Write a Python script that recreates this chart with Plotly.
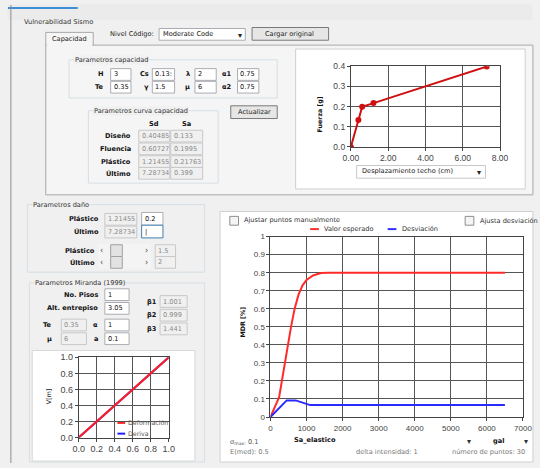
import plotly.graph_objects as go

W, H = 540, 468

# capacity curve (Sd, Sa)
cap_sd = [0, 0.40485, 0.60727, 1.21455, 7.28734]
cap_sa = [0, 0.133, 0.1995, 0.21763, 0.399]

# small chart (Miranda)
mir_x = [0, 1]
deform_y = [0, 1]
deriva_y = [0, 1]

# main chart: expected value and deviation vs Sa_elastico
val_x = [0, 240, 570, 670, 780, 890, 1000, 1180, 1400, 1600, 6500]
val_y = [0, 0.11, 0.50, 0.60, 0.68, 0.73, 0.76, 0.785, 0.798, 0.80, 0.80]
dev_x = [0, 450, 700, 850, 1000, 1100, 6500]
dev_y = [0, 0.092, 0.092, 0.083, 0.072, 0.066, 0.066]

# form values
row1_labels = ["H", "Cs", "λ", "α1"]
row1_values = ["3", "0.13:", "2", "0.75"]
row2_labels = ["Te", "γ", "μ", "α2"]
row2_values = ["0.35", "1.5", "6", "0.75"]
curve_labels = ["Diseño", "Fluencia", "Plástico", "Último"]
curve_sd = ["0.40485", "0.60727", "1.21455", "7.28734"]
curve_sa = ["0.133", "0.1995", "0.21763", "0.399"]

FONT = "DejaVu Sans"
TICKFONT = "Liberation Sans"
FS = 6.6
shapes = []
annots = []


def px(x):
    return x / W


def py(y):
    return 1 - y / H


def rect(x0, y0, x1, y1, fill="rgba(0,0,0,0)", line="#b0b0b0", lw=1):
    shapes.append(dict(type="rect", xref="paper", yref="paper", layer="below",
                       x0=px(x0), x1=px(x1), y0=py(y1), y1=py(y0),
                       fillcolor=fill, line=dict(color=line, width=lw)))


def hline(x0, x1, y, color, lw=1):
    shapes.append(dict(type="line", xref="paper", yref="paper", layer="below",
                       x0=px(x0), x1=px(x1), y0=py(y), y1=py(y),
                       line=dict(color=color, width=lw)))


def txt(x, y, s, size=FS, color="#222", anchor="left", bold=False, bg=None, angle=0):
    if bold:
        s = "<b>" + s + "</b>"
    a = dict(x=px(x), y=py(y), xref="paper", yref="paper", text=s, showarrow=False,
             xanchor=anchor, yanchor="middle", textangle=angle, borderpad=0,
             font=dict(family=FONT, size=size, color=color))
    if bg:
        a["bgcolor"] = bg
    annots.append(a)


def tbox(x0, y0, x1, y1, s, enabled=True, border="#abadb3"):
    if enabled:
        rect(x0, y0, x1, y1, fill="white", line=border)
        txt(x0 + 2, (y0 + y1) / 2, s, color="#111")
    else:
        rect(x0, y0, x1, y1, fill="#f0f0f0", line="#c8c8c8")
        txt(x0 + 2, (y0 + y1) / 2, s, color="#8a8a8a")


def group(x0, y0, x1, y1, label):
    rect(x0, y0, x1, y1, line="#d5dfe5")
    txt(x0 + 5, y0, label, color="#333", bg="#f0f0f0")


# window frame
rect(0, 0, 541, 15, fill="#ebebeb", line="#ebebeb")
hline(0, 72, 3, "#3c8ed8", 2)
shapes.append(dict(type="line", xref="paper", yref="paper", layer="below",
                   x0=px(3), x1=px(3), y0=0, y1=1, line=dict(color="#8c8c8c", width=1)))
txt(16, 17, "Vulnerabilidad Sismo", color="#333")

# tab panel
rect(39, 41, 542, 194, fill="#f5f5f5", line="#a9a9a9")
rect(39, 28, 88, 41, fill="#f5f5f5", line="#a9a9a9")
hline(40, 87, 41, "#f5f5f5", 2)
txt(63, 35, "Capacidad", anchor="center", color="#222")
txt(104, 30, "Nivel Código:", color="#222")
rect(156, 24, 245, 36, fill="white", line="#abadb3")
txt(159, 30, "Moderate Code", color="#111")
txt(240, 31, "▾", anchor="center", color="#222", size=8)
rect(252, 23, 331, 36, fill="#e6e6e6", line="#7a7a7a")
txt(291, 30, "Cargar original", anchor="center", color="#222")

# parametros capacidad
group(63, 56, 278, 95, "Parametros capacidad")
lab_x = [100, 147, 189, 232]
box_x = [(106, 127), (149, 172), (193, 215), (237, 259)]
for i in range(4):
    txt(lab_x[i], 71, row1_labels[i], bold=True, anchor="right", color="#111")
    tbox(box_x[i][0], 65, box_x[i][1], 77, row1_values[i])
    txt(lab_x[i], 84, row2_labels[i], bold=True, anchor="right", color="#111")
    tbox(box_x[i][0], 78, box_x[i][1], 90, row2_values[i])

# parametros curva capacidad
group(83, 108, 217, 182, "Parametros curva capacidad")
txt(151, 122, "Sd", bold=True, anchor="center", color="#111")
txt(184, 122, "Sa", bold=True, anchor="center", color="#111")
row_y = [(128, 140), (141, 153), (154, 166), (166, 178)]
for i in range(4):
    yc = (row_y[i][0] + row_y[i][1]) / 2
    txt(128, yc, curve_labels[i], bold=True, anchor="right", color="#111")
    tbox(135, row_y[i][0], 167, row_y[i][1], curve_sd[i], enabled=False)
    tbox(168, row_y[i][0], 201, row_y[i][1], curve_sa[i], enabled=False)
rect(230, 103, 278, 116, fill="#e6e6e6", line="#7a7a7a")
txt(254, 109, "Actualizar", anchor="center", color="#222")

# capacity chart panel
rect(297, 45, 534, 188, fill="white", line="#cfcfcf")
txt(322, 112, "Fuerza [g]", bold=True, angle=-90, anchor="center", color="#111", size=6.3)
rect(360, 164, 493, 177, fill="white", line="#c8c8c8")
txt(364, 170, "Desplazamiento techo (cm)", color="#222")
txt(486, 171, "▾", anchor="center", color="#222", size=8)

# parametros daño
group(20, 204, 203, 273, "Parametros daño")
txt(95, 219, "Plástico", bold=True, anchor="right", color="#111")
tbox(100, 213, 133, 225, "1.21455", enabled=False)
tbox(138, 212, 160, 225, "0.2")
txt(95, 231, "Último", bold=True, anchor="right", color="#111")
tbox(100, 226, 133, 238, "7.28734", enabled=False)
tbox(138, 225, 160, 238, "|", border="#3c7fb1")
for yc, lab, val in [(251, "Plástico", "1.5"), (263, "Último", "2")]:
    txt(91, yc, lab, bold=True, anchor="right", color="#111")
    rect(94, yc - 6, 147, yc + 6, fill="#f4f4f4", line="#f4f4f4")
    txt(97, yc, "‹", anchor="center", color="#444", size=8)
    txt(143, yc, "›", anchor="center", color="#444", size=8)
    rect(106, yc - 6, 118, yc + 6, fill="#e2e2e2", line="#a0a0a0")
    tbox(152, yc - 6, 173, yc + 6, val, enabled=False)

# parametros Miranda
group(22, 284, 203, 467, "Parametros Miranda (1999)")
txt(94, 296, "No. Pisos", bold=True, anchor="right", color="#111")
tbox(100, 290, 125, 302, "1")
txt(94, 310, "Alt. entrepiso", bold=True, anchor="right", color="#111")
tbox(100, 304, 125, 316, "3.05")
for yc, lab, val in [(303, "β1", "1.001"), (317, "β2", "0.999"), (331, "β3", "1.441")]:
    txt(155, yc, lab, bold=True, anchor="right", color="#111")
    tbox(157, yc - 6, 185, yc + 6, val, enabled=False)
txt(46, 327, "Te", bold=True, anchor="right", color="#111")
tbox(55, 321, 81, 333, "0.35", enabled=False)
txt(94, 327, "α", bold=True, anchor="right", color="#111")
tbox(100, 321, 125, 333, "1")
txt(46, 341, "μ", bold=True, anchor="right", color="#111")
tbox(55, 335, 81, 347, "6", enabled=False)
txt(94, 341, "a", bold=True, anchor="right", color="#111")
tbox(100, 335, 125, 347, "0.1")

rect(25, 353, 193, 466, fill="white", line="#d8d8d8")
txt(42, 400, "V[m]", angle=-90, anchor="center", color="#111", size=6.3)
hline(113, 121, 427, "#ff2020", 2)
txt(123, 427, "Deformación", color="#555", size=6.3)
hline(113, 121, 438, "#2020ff", 2)
txt(123, 438, "Deriva", color="#555", size=6.3)

# main chart panel
rect(219, 211, 542, 467, fill="white", line="#d0d0d0")
rect(229, 216, 238, 225, fill="#f4f4f4", line="#8f8f8f")
txt(243, 220, "Ajustar puntos manualmente", color="#333")
rect(472, 216, 481, 225, fill="#f4f4f4", line="#8f8f8f")
txt(486, 221, "Ajusta desviación", color="#333")
hline(312, 321, 229, "#ff3030", 2)
txt(325, 229, "Valor esperado", color="#333")
hline(392, 401, 229, "#3030ff", 2)
txt(406, 229, "Desviación", color="#333")
txt(242, 324, "MDR [%]", bold=True, angle=-90, anchor="center", color="#111", size=6.3)
txt(294, 445, "Sa_elastico", bold=True, color="#111")
txt(228, 447, "σ<sub>max:</sub> 0.1", color="#555")
txt(228, 457, "E(med): 0.5", color="#777")
txt(358, 457, "delta intensidad: 1", color="#777")
txt(476, 446, "▾", anchor="center", color="#333", size=8)
txt(500, 446, "gal", bold=True, color="#111")
txt(535, 446, "▾", anchor="center", color="#333", size=8)
txt(457, 457, "número de puntos: 30", color="#777")

fig = go.Figure()
fig.add_trace(go.Scatter(x=cap_sd, y=cap_sa, mode="lines+markers", xaxis="x", yaxis="y",
                         line=dict(color="#d01010", width=2),
                         marker=dict(color="#d01010", size=6), showlegend=False))
fig.add_trace(go.Scatter(x=mir_x, y=deriva_y, mode="lines", xaxis="x2", yaxis="y2",
                         line=dict(color="#2020ff", width=2), showlegend=False))
fig.add_trace(go.Scatter(x=mir_x, y=deform_y, mode="lines", xaxis="x2", yaxis="y2",
                         line=dict(color="#ff2020", width=2), showlegend=False))
fig.add_trace(go.Scatter(x=val_x, y=val_y, mode="lines", xaxis="x3", yaxis="y3",
                         line=dict(color="#ff2a2a", width=2), showlegend=False))
fig.add_trace(go.Scatter(x=dev_x, y=dev_y, mode="lines", xaxis="x3", yaxis="y3",
                         line=dict(color="#2a2aff", width=2), showlegend=False))


def axis(size, **kw):
    d = dict(showline=True, mirror=True, linecolor="#444", linewidth=1,
             gridcolor="#555", gridwidth=1, zeroline=False, ticks="outside",
             ticklen=3, tickcolor="#444",
             tickfont=dict(family=TICKFONT, size=size, color="#444"))
    d.update(kw)
    return d


fig.update_layout(
    width=W, height=H, autosize=False,
    margin=dict(l=0, r=0, t=0, b=0),
    paper_bgcolor="#f0f0f0", plot_bgcolor="white",
    shapes=shapes, annotations=annots,
    xaxis=axis(8.5, domain=[px(354), px(508)], range=[0, 8], dtick=2, tickformat=".2f", anchor="y"),
    yaxis=axis(8.5, domain=[py(145), py(62.7)], range=[0, 0.4], dtick=0.1, tickformat=".1f", anchor="x"),
    xaxis2=axis(9, domain=[px(73), px(166)], range=[0, 1], dtick=0.2, tickformat=".1f", anchor="y2"),
    yaxis2=axis(9, domain=[py(442), py(360)], range=[0, 1], dtick=0.2, tickformat=".1f", anchor="x2"),
    xaxis3=axis(8, domain=[px(271), px(531.7)], range=[0, 7000], dtick=1000, anchor="y3"),
    yaxis3=axis(8, domain=[py(421), py(236.7)], range=[0, 1], dtick=0.1, anchor="x3"),
)

# the page body has a default margin; remove it so the figure sits at the window corner
fig.write_html("out.html", config={"displayModeBar": False},
               post_script="document.body.style.margin='0';")
